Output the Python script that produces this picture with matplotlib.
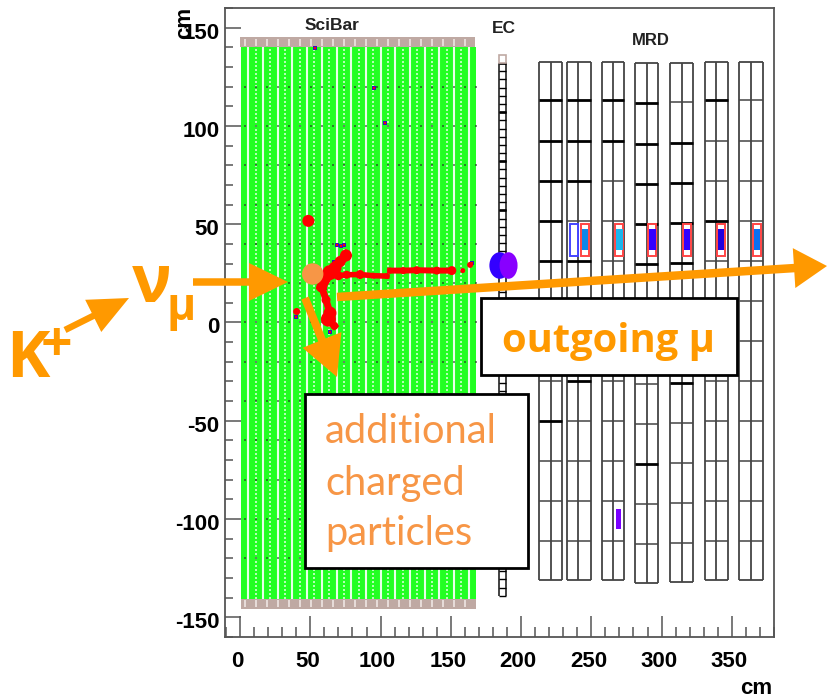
import numpy as np
import matplotlib
matplotlib.use("Agg")
import matplotlib.pyplot as plt
from matplotlib.patches import Rectangle, Ellipse, Circle, FancyArrow
from matplotlib.ticker import MultipleLocator
from matplotlib.transforms import ScaledTranslation

# ---- detector geometry (cm) ----
scibar_x = [0.7, 168.0]
scibar_y = [-140.5, 140.0]
gray_h = 5.2
n_layers = 64
ec_x = [184.0, 189.3]
ec_y = [-139.0, 136.0]
ec_cell = 4.17
mrd_planes = [
    (213.0, 221.3, 229.2), (232.7, 240.5, 249.6), (257.7, 265.5, 273.3),
    (281.1, 289.7, 297.5), (306.0, 314.5, 322.4), (331.0, 339.0, 347.0),
    (355.2, 363.7, 372.0),
]
mrd_offset = [0.0, 0.0, 0.0, -1.5, -1.2, 0.0, 0.0]
mrd_top = 132.6
mrd_bottom = -131.0
mrd_lines = [113.3, 92.5, 72.0, 51.8, 31.4, 11.0, -9.3, -29.6, -50.0, -70.4, -90.7, -111.0]
mrd_thick = [
    [113.3, 92.5, 72.0, 51.8, 31.4, -50.0],
    [113.3, 92.5, 72.0, 31.4, -29.6],
    [113.3, 92.5, -9.3],
    [113.3, 92.5, 72.0, 51.8, 31.4, -70.4],
    [92.5, 72.0, 51.8, 31.4, -29.6],
    [113.3, 51.8],
    [],
]

# ---- hits ----
track_x = [75.4, 71.2, 67.6, 64.0, 58.1, 61.2, 64.0, 62.9, 67.1,
           70.0, 75.9, 85.4, 94.9, 104.4,
           106.8, 116.2, 125.7, 140.0, 150.7, 158.5, 163.7, 48.6, 40.3]
track_y = [34.1, 31.0, 27.7, 25.4, 18.0, 11.5, 4.8, 1.7, -1.7,
           23.8, 24.3, 24.4, 23.8, 23.6,
           26.4, 26.4, 26.6, 26.4, 26.4, 26.4, 29.3, 51.7, 5.6]
track_d = [12, 11, 13, 15, 11, 9, 13, 15, 8,
           9, 8, 9, 6, 6,
           6, 7, 8, 8, 9, 5, 6, 12, 7]
stray_x = [53.4, 95.6, 103.4, 69.0, 71.5, 74.0, 67.1, 64.0, 60.3, 40.0, 165.0]
stray_y = [139.4, 119.5, 101.7, 39.2, 39.0, 39.4, 31.0, -5.0, 17.5, 3.0, 30.5]

ec_hit_x = [184.8, 191.1]
ec_hit_y = [29.0, 29.0]
ec_hit_w = [14.7, 12.8]
ec_hit_h = [13.5, 13.5]
ec_hit_c = ["#3300ff", "#8800ff"]

red_box_x = [242.6, 267.2, 290.6, 315.3, 339.6, 365.0]
red_box_c = ["#0f86e8", "#1bb6ee", "#3300ff", "#3300ff", "#2200dd", "#0a70f0"]
red_box_w = 5.6
red_box_y = [33.6, 50.0]
fill_y = [37.0, 47.5]
blue_box = [235.0, 240.5]
low_hit_x = [267.4, 271.2]
low_hit_y = [-105.3, -95.0]

xticks = [0, 50, 100, 150, 200, 250, 300, 350]
yticks = [-150, -100, -50, 0, 50, 100, 150]

ORANGE = "#ff9900"
PEACH = "#f79646"
plt.rcParams["font.family"] = ["Liberation Sans", "DejaVu Sans"]
plt.rcParams["axes.unicode_minus"] = False

W, H = 827, 698
fig = plt.figure(figsize=(W / 100, H / 100), dpi=100)
ax = fig.add_axes([225 / W, 1 - 637 / H, 549 / W, 629 / H])
ax.set_xlim(-10.7, 380)
ax.set_ylim(-160, 160)
FR = "#555555"
for s in ax.spines.values():
    s.set_color(FR)
    s.set_linewidth(1.3)
ax.set_xticks(xticks)
ax.set_yticks(yticks)
ax.xaxis.set_minor_locator(MultipleLocator(10))
ax.yaxis.set_minor_locator(MultipleLocator(10))
ax.tick_params(axis="x", which="major", direction="in", length=15, width=1.1, color=FR,
               pad=10, labelsize=16)
ax.tick_params(axis="x", which="minor", direction="in", length=7.5, width=1.1, color=FR)
ax.tick_params(axis="y", which="major", direction="in", length=11.5, width=1.1, color=FR,
               pad=4, labelsize=16)
ax.tick_params(axis="y", which="minor", direction="in", length=5.7, width=1.1, color=FR)
dx_lab = ScaledTranslation(-3 / 100, 0, fig.dpi_scale_trans)
dy_lab = ScaledTranslation(0, -3 / 100, fig.dpi_scale_trans)
for lab in ax.get_xticklabels():
    lab.set_fontweight("bold")
    lab.set_transform(lab.get_transform() + dx_lab)
for lab in ax.get_yticklabels():
    lab.set_fontweight("bold")
    lab.set_transform(lab.get_transform() + dy_lab)
ax.set_axisbelow(False)

# SciBar
ax.add_patch(Rectangle((scibar_x[0], scibar_y[0]), scibar_x[1] - scibar_x[0],
                       scibar_y[1] - scibar_y[0], fc="#22ff22", ec="none", zorder=1))
edges = np.linspace(scibar_x[0], scibar_x[1], n_layers + 1)
ax.vlines(edges[2::4], scibar_y[0], scibar_y[1], color="white", lw=1.5, alpha=0.9, zorder=2)
ax.vlines(edges[::4][1:-1], scibar_y[0], scibar_y[1], color="white", lw=1.2,
          linestyles=(0, (1.2, 1.2)), alpha=0.8, zorder=2)
ax.add_patch(Rectangle((scibar_x[0] - 0.5, scibar_y[1]), scibar_x[1] - scibar_x[0],
                       gray_h, fc="#bfa9a3", ec="none", zorder=2))
ax.add_patch(Rectangle((scibar_x[0], scibar_y[0] - gray_h), scibar_x[1] - scibar_x[0],
                       gray_h, fc="#bfa9a3", ec="none", zorder=2))
ax.vlines(edges[1:-1:3], scibar_y[1] + 0.8, scibar_y[1] + gray_h - 1, color="#eee6e3", lw=1.2, zorder=3)
ax.vlines(edges[1:-1:3], scibar_y[0] - gray_h + 1, scibar_y[0] - 0.8, color="#eee6e3", lw=1.2, zorder=3)
dot_rows = np.arange(-120, 121, 20)
dot_cols = edges[1::3]
gx, gy = np.meshgrid(dot_cols, dot_rows)
ax.scatter(gx.ravel(), gy.ravel(), s=1.0, c="#222222", marker="s", lw=0, alpha=0.55, zorder=3)

# EC
cells = np.arange(ec_y[0], ec_y[1] + 0.1, ec_cell)
ax.vlines(ec_x, ec_y[0], cells[-1], color="#333333", lw=1.3, zorder=2)
ax.hlines(cells, ec_x[0], ec_x[1], color="black", lw=1.0, zorder=2)
ax.hlines(cells[5::6], ec_x[0], ec_x[1], color="black", lw=1.9, zorder=2)
ax.add_patch(Rectangle((ec_x[0], cells[-1]), ec_x[1] - ec_x[0], ec_cell, fc="white",
                       ec="#bfa9a3", lw=1.2, zorder=2))

# MRD
for i, (l, m, r) in enumerate(mrd_planes):
    o = mrd_offset[i]
    ax.vlines([l, m, r], mrd_bottom + o, mrd_top + o * 0.5, color="#444444", lw=1.3, zorder=2)
    ax.hlines([mrd_top + o * 0.5, mrd_bottom + o], l, r, color="#444444", lw=1.3, zorder=2)
    for y in mrd_lines:
        thick = y in mrd_thick[i]
        ax.hlines(y + o, l, r, color="black" if thick else "#444444",
                  lw=2.0 if thick else 1.1, zorder=2)

# MRD hits
for x0, c in zip(red_box_x, red_box_c):
    ax.add_patch(Rectangle((x0, red_box_y[0]), red_box_w, red_box_y[1] - red_box_y[0],
                           fc="white", ec="#ff4444", lw=1.4, zorder=4))
    ax.add_patch(Rectangle((x0 + 0.5, fill_y[0]), red_box_w - 1, fill_y[1] - fill_y[0],
                           fc=c, ec="none", zorder=5))
ax.add_patch(Rectangle((blue_box[0], red_box_y[0]), blue_box[1] - blue_box[0],
                       red_box_y[1] - red_box_y[0], fc="white", ec="#4444ff", lw=1.4, zorder=4))
ax.add_patch(Rectangle((low_hit_x[0], low_hit_y[0]), low_hit_x[1] - low_hit_x[0],
                       low_hit_y[1] - low_hit_y[0], fc="#7a00ff", ec="none", zorder=4))

# EC hits
for x, y, w, h, c in zip(ec_hit_x, ec_hit_y, ec_hit_w, ec_hit_h, ec_hit_c):
    ax.add_patch(Ellipse((x, y), w, h, fc=c, ec="none", zorder=5))

# tracks
ax.scatter(stray_x, stray_y, s=9, c="#3a10c0", marker="s", lw=0, zorder=5)
ax.scatter(stray_x, stray_y, s=3, c="#ff0000", marker="s", lw=0, zorder=6)
ax.scatter(track_x, track_y, s=(np.array(track_d) * 0.72) ** 2, c="#ff0000", lw=0, zorder=6)
ax.plot(track_x[:5], track_y[:5], color="#ff0000", lw=6.5, zorder=6)
ax.plot(track_x[4:9], track_y[4:9], color="#ff0000", lw=5, zorder=6)
ax.plot(track_x[9:14], track_y[9:14], color="#ff0000", lw=4, zorder=6)
ax.plot(track_x[14:19], track_y[14:19], color="#ff0000", lw=4.3, zorder=6)

# labels
ax.text(65.5, 151, "SciBar", ha="center", va="center", fontsize=12.5, fontweight="bold",
        color="#222222", zorder=7)
ax.text(188, 149.5, "EC", ha="center", va="center", fontsize=12.5, fontweight="bold",
        color="#222222", zorder=7)
ax.text(292, 143.5, "MRD", ha="center", va="center", fontsize=12, fontweight="bold",
        color="#222222", zorder=7)
fig.text(755.7 / W, 1 - 688 / H, "cm", ha="center", va="center", fontsize=16, fontweight="bold")
fig.text(185 / W, 1 - 23 / H, "cm", ha="center", va="center", rotation=90, fontsize=16, fontweight="bold")

# ---- slide overlay, in figure pixels ----
px = fig.add_axes([0, 0, 1, 1], facecolor="none")
px.set_xlim(0, W)
px.set_ylim(H, 0)
px.axis("off")

arrows = [
    (193, 282, 95, 0, 7.5, 38, 39, ORANGE),
    (65, 330, 64, -32, 6.5, 36, 40, ORANGE),
    (337, 297, 490, -31, 8.5, 40, 33, ORANGE),
    (305, 298, 32, 79, 8, 42, 40, ORANGE),
]
for x, y, dx, dy, w, hw, hl, c in arrows:
    px.add_patch(FancyArrow(x, y, dx, dy, width=w, head_width=hw, head_length=hl,
                            length_includes_head=True, fc=c, ec="none", zorder=10))
px.add_patch(Circle((312.7, 274), 10.7, fc=PEACH, ec="none", zorder=10))

px.add_patch(Rectangle((480.7, 298), 256.3, 77, fc="white", ec="black", lw=2, zorder=11))
px.add_patch(Rectangle((305, 394), 223, 174, fc="white", ec="black", lw=2, zorder=11))

lato = ["Lato", "Open Sans", "DejaVu Sans"]
px.text(502, 352, "outgoing μ", ha="left", va="baseline", fontsize=28.7, fontweight="bold",
        color=ORANGE, family=["Open Sans", "DejaVu Sans"], zorder=12)
for txt, by in zip(["additional", "charged", "particles"], [443, 495, 545]):
    px.text(325, by, txt, ha="left", va="baseline", fontsize=28.7, color=PEACH,
            family=lato, zorder=12)
px.text(6, 377, "K", ha="left", va="baseline", fontsize=47, fontweight="bold", color=ORANGE,
        family=["Open Sans"], zorder=12)
px.text(41, 361, "+", ha="left", va="baseline", fontsize=40, fontweight="bold", color=ORANGE,
        family=["Open Sans"], zorder=12)
px.text(132, 302, "ν", ha="left", va="baseline", fontsize=48, fontweight="bold", color=ORANGE,
        family=["Open Sans"], zorder=12)
px.text(167, 320, "μ", ha="left", va="baseline", fontsize=32, fontweight="bold", color=ORANGE,
        family=["Open Sans"], zorder=12)

fig.savefig("out.png", dpi=100)
